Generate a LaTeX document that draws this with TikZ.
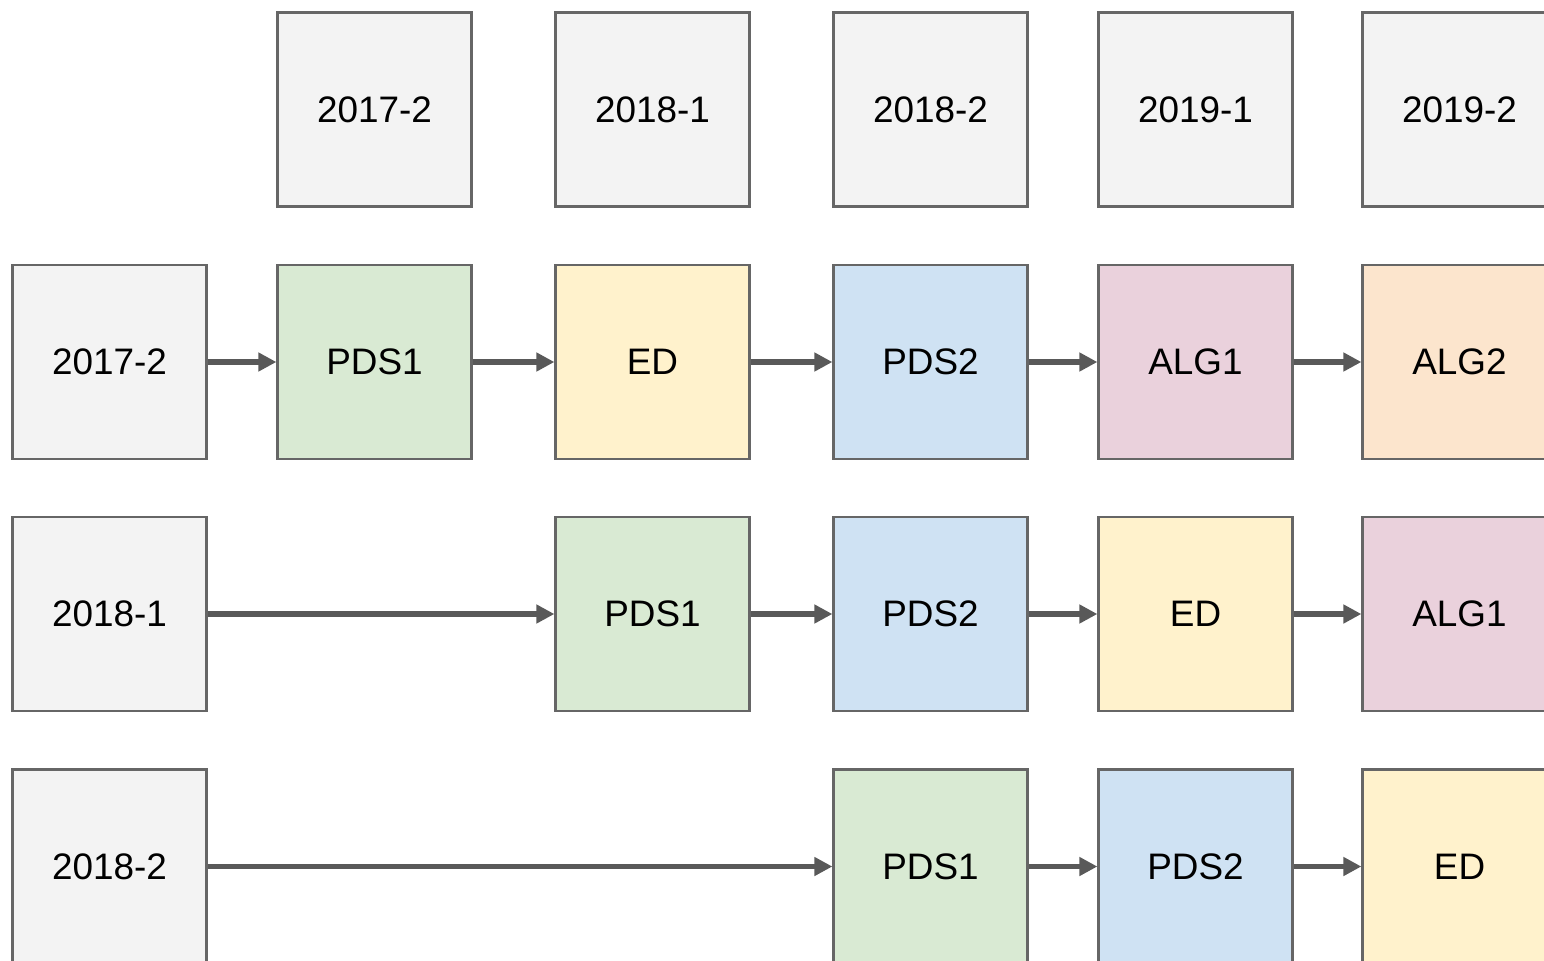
\documentclass[tikz,border=0pt]{standalone}
\usepackage{fontspec}
\setmainfont{Liberation Sans}
\usepackage{xcolor}
\usetikzlibrary{arrows.meta}
\definecolor{cellgray}{HTML}{F3F3F3}
\definecolor{cellgreen}{HTML}{D9EAD3}
\definecolor{cellyellow}{HTML}{FFF2CC}
\definecolor{cellblue}{HTML}{CFE2F3}
\definecolor{cellpink}{HTML}{EAD1DC}
\definecolor{cellorange}{HTML}{FCE5CD}
\definecolor{boxline}{HTML}{666666}
\definecolor{arrgray}{HTML}{595959}
\begin{document}
\begin{tikzpicture}[x=0.02cm,y=-0.02cm,
  box/.style={rectangle,draw=boxline,line width=1.3pt,
    minimum width=3.88cm,minimum height=3.88cm,inner sep=0pt,
    align=center,font=\fontsize{21}{25}\selectfont},
  arr/.style={-{Triangle[length=0.36cm,width=0.36cm]},line width=3pt,draw=arrgray}]

  \useasboundingbox (0,0) rectangle (1544,960);

  % semester header
  \node[box,fill=cellgray] (h172) at (374.5,109.5) {2017-2};
  \node[box,fill=cellgray] (h181) at (652.5,109.5) {2018-1};
  \node[box,fill=cellgray] (h182) at (930.5,109.5) {2018-2};
  \node[box,fill=cellgray] (h191) at (1195.5,109.5) {2019-1};
  \node[box,fill=cellgray] (h192) at (1459.5,109.5) {2019-2};

  % start 2017-2
  \node[box,fill=cellgray] (s172) at (109.5,362) {2017-2};
  \node[box,fill=cellgreen] (a1) at (374.5,362) {PDS1};
  \node[box,fill=cellyellow] (a2) at (652.5,362) {ED};
  \node[box,fill=cellblue] (a3) at (930.5,362) {PDS2};
  \node[box,fill=cellpink] (a4) at (1195.5,362) {ALG1};
  \node[box,fill=cellorange] (a5) at (1459.5,362) {ALG2};

  % start 2018-1
  \node[box,fill=cellgray] (s181) at (109.5,614) {2018-1};
  \node[box,fill=cellgreen] (b1) at (652.5,614) {PDS1};
  \node[box,fill=cellblue] (b2) at (930.5,614) {PDS2};
  \node[box,fill=cellyellow] (b3) at (1195.5,614) {ED};
  \node[box,fill=cellpink] (b4) at (1459.5,614) {ALG1};

  % start 2018-2
  \node[box,fill=cellgray] (s182) at (109.5,866.5) {2018-2};
  \node[box,fill=cellgreen] (c1) at (930.5,866.5) {PDS1};
  \node[box,fill=cellblue] (c2) at (1195.5,866.5) {PDS2};
  \node[box,fill=cellyellow] (c3) at (1459.5,866.5) {ED};

  \draw[arr] (s172) -- (a1);
  \draw[arr] (a1) -- (a2);
  \draw[arr] (a2) -- (a3);
  \draw[arr] (a3) -- (a4);
  \draw[arr] (a4) -- (a5);

  \draw[arr] (s181) -- (b1);
  \draw[arr] (b1) -- (b2);
  \draw[arr] (b2) -- (b3);
  \draw[arr] (b3) -- (b4);

  \draw[arr] (s182) -- (c1);
  \draw[arr] (c1) -- (c2);
  \draw[arr] (c2) -- (c3);
\end{tikzpicture}
\end{document}
